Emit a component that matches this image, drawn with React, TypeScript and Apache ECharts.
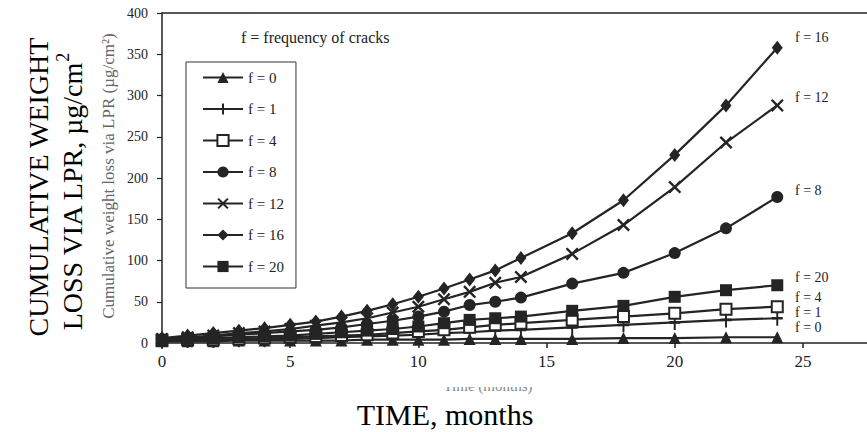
import React, { useEffect, useRef } from "react";
import * as echarts from "echarts";

const months = [0, 1, 2, 3, 4, 5, 6, 7, 8, 9, 10, 11, 12, 13, 14, 16, 18, 20, 22, 24];
const f0 = [2, 2, 2, 3, 3, 3, 3, 3, 4, 4, 4, 4, 5, 5, 5, 5, 6, 6, 7, 7];
const f1 = [2, 3, 3, 4, 4, 5, 6, 7, 8, 9, 10, 12, 13, 15, 16, 19, 22, 25, 28, 30];
const f4 = [3, 4, 4, 5, 6, 7, 8, 9, 10, 12, 14, 16, 19, 22, 24, 28, 32, 36, 41, 44];
const f8 = [4, 6, 8, 10, 12, 14, 16, 19, 23, 27, 32, 38, 46, 50, 55, 72, 85, 109, 139, 177];
const f12 = [5, 7, 9, 12, 14, 17, 21, 25, 30, 37, 44, 53, 62, 73, 80, 108, 143, 189, 243, 288];
const f16 = [6, 9, 12, 15, 18, 22, 26, 32, 39, 47, 56, 66, 77, 88, 103, 133, 173, 228, 288, 358];
const f20 = [4, 5, 6, 7, 8, 9, 11, 13, 15, 17, 20, 24, 28, 30, 32, 39, 45, 56, 64, 70];
const seriesNames = ["f = 0", "f = 1", "f = 4", "f = 8", "f = 12", "f = 16", "f = 20"];
const xTicks = [0, 5, 10, 15, 20, 25];
const yTicks = [0, 50, 100, 150, 200, 250, 300, 350, 400];

const SERIF = "'Liberation Serif', 'Times New Roman', serif";
const INK = "#242424";

const X_SYM = "path://M0,1.3 L1.3,0 L5,3.7 L8.7,0 L10,1.3 L6.3,5 L10,8.7 L8.7,10 L5,6.3 L1.3,10 L0,8.7 L3.7,5 Z";
const PLUS_SYM = "path://M4.1,0 H5.9 V4.1 H10 V5.9 H5.9 V10 H4.1 V5.9 H0 V4.1 H4.1 Z";

function mk(name: string, values: number[], symbol: string, size: any, itemStyle: any) {
  return {
    name,
    type: "line",
    data: months.map((m, i) => [m, values[i]]),
    symbol,
    symbolSize: size,
    lineStyle: { color: INK, width: 2.2 },
    itemStyle,
    emphasis: { disabled: true },
    z: 3,
  };
}

export default function App() {
  const ref = useRef<HTMLDivElement>(null);
  useEffect(() => {
    if (!ref.current) return;
    const chart = echarts.init(ref.current, null, { renderer: "svg" });
    const filled = { color: INK };
    const series = [
      mk(seriesNames[0], f0, "triangle", 12, filled),
      mk(seriesNames[1], f1, PLUS_SYM, [11, 15], filled),
      mk(seriesNames[2], f4, "rect", 11, { color: "#fff", borderColor: INK, borderWidth: 2 }),
      mk(seriesNames[3], f8, "circle", 12, filled),
      mk(seriesNames[4], f12, X_SYM, 13, filled),
      mk(seriesNames[5], f16, "diamond", [11, 14], filled),
      mk(seriesNames[6], f20, "rect", 12, filled),
    ];
    const rightLabels = [
      { t: "f = 16", y: 37 },
      { t: "f = 12", y: 97 },
      { t: "f = 8", y: 190 },
      { t: "f = 20", y: 277 },
      { t: "f = 4", y: 297 },
      { t: "f = 1", y: 312 },
      { t: "f = 0", y: 327 },
    ];
    chart.setOption({
      animation: false,
      backgroundColor: "#fff",
      grid: { left: 162, top: 13, right: 0, bottom: 89, containLabel: false },
      legend: {
        data: seriesNames,
        orient: "vertical",
        left: 186,
        top: 62,
        itemWidth: 40,
        itemHeight: 14,
        itemGap: 16.5,
        padding: [8, 12, 14, 16],
        borderColor: "#333",
        borderWidth: 1,
        backgroundColor: "#fff",
        textStyle: { fontFamily: SERIF, fontSize: 15, color: "#222" },
        selectedMode: false,
      },
      xAxis: [
        {
          type: "value",
          min: 0,
          max: 27.5,
          interval: 5,
          position: "bottom",
          splitLine: { show: false },
          axisLine: { show: true, onZero: false, lineStyle: { color: "#222", width: 1.5 } },
          axisTick: { show: true, length: 5, lineStyle: { color: "#222", width: 1.5 } },
          axisLabel: {
            fontFamily: SERIF,
            fontSize: 17,
            color: "#222",
            margin: 10,
            showMaxLabel: false,
            formatter: (v: number) => (xTicks.indexOf(v) >= 0 ? String(v) : ""),
          },
        },
        {
          type: "value",
          min: 0,
          max: 27.5,
          position: "top",
          splitLine: { show: false },
          axisLine: { show: true, onZero: false, lineStyle: { color: "#222", width: 1.5 } },
          axisTick: { show: false },
          axisLabel: { show: false },
        },
      ],
      yAxis: {
        type: "value",
        min: 0,
        max: 400,
        interval: 50,
        splitLine: { show: false },
        axisLine: { show: true, onZero: false, lineStyle: { color: "#222", width: 1.5 } },
        axisTick: { show: true, length: 5, lineStyle: { color: "#222", width: 1.2 } },
        axisLabel: {
          fontFamily: SERIF,
          fontSize: 14,
          color: "#222",
          margin: 14,
          formatter: (v: number) => (yTicks.indexOf(v) >= 0 ? String(v) : ""),
        },
      },
      series,
      graphic: [
        {
          type: "text",
          x: 38,
          y: 187,
          rotation: Math.PI / 2,
          style: {
            text: "CUMULATIVE WEIGHT",
            fontFamily: SERIF,
            fontSize: 28,
            fill: "#000",
            align: "center",
            verticalAlign: "middle",
          },
        },
        {
          type: "text",
          x: 70,
          y: 192,
          rotation: Math.PI / 2,
          style: {
            text: "{a|LOSS VIA LPR, µg/cm}{b|2}",
            align: "center",
            verticalAlign: "middle",
            rich: {
              a: { fontFamily: SERIF, fontSize: 28, fill: "#000", lineHeight: 32, verticalAlign: "bottom" },
              b: { fontFamily: SERIF, fontSize: 18, fill: "#000", lineHeight: 32, verticalAlign: "top", padding: [0, 0, 12, 0] },
            },
          },
        },
        {
          type: "text",
          x: 108,
          y: 176,
          rotation: Math.PI / 2,
          style: {
            text: "Cumulative weight loss via LPR (µg/cm²)",
            fontFamily: SERIF,
            fontSize: 17,
            fill: "#666",
            align: "center",
            verticalAlign: "middle",
          },
        },
        {
          type: "text",
          x: 241,
          y: 37,
          style: {
            text: "f = frequency of cracks",
            fontFamily: SERIF,
            fontSize: 16,
            fill: "#222",
            align: "left",
            verticalAlign: "middle",
          },
        },
        ...rightLabels.map((l) => ({
          type: "text",
          x: 795,
          y: l.y,
          style: {
            text: l.t,
            fontFamily: SERIF,
            fontSize: 14,
            lineHeight: 14,
            fill: "#222",
            align: "left",
            verticalAlign: "middle",
          },
        })),
        {
          type: "text",
          x: 488,
          y: 386,
          style: {
            text: "Time (months)",
            fontFamily: SERIF,
            fontSize: 15,
            fill: "#888",
            align: "center",
            verticalAlign: "middle",
          },
        },
        {
          type: "rect",
          shape: { x: 420, y: 374, width: 140, height: 13 },
          style: { fill: "#fff" },
          z: 100,
        },
        {
          type: "text",
          x: 445,
          y: 414,
          style: {
            text: "TIME, months",
            fontFamily: SERIF,
            fontSize: 30,
            fill: "#000",
            align: "center",
            verticalAlign: "middle",
          },
        },
      ],
    });
    return () => chart.dispose();
  }, []);
  return (
    <div
      ref={ref}
      style={{ position: "fixed", left: 0, top: 0, width: 867, height: 432, background: "#fff" }}
    />
  );
}
